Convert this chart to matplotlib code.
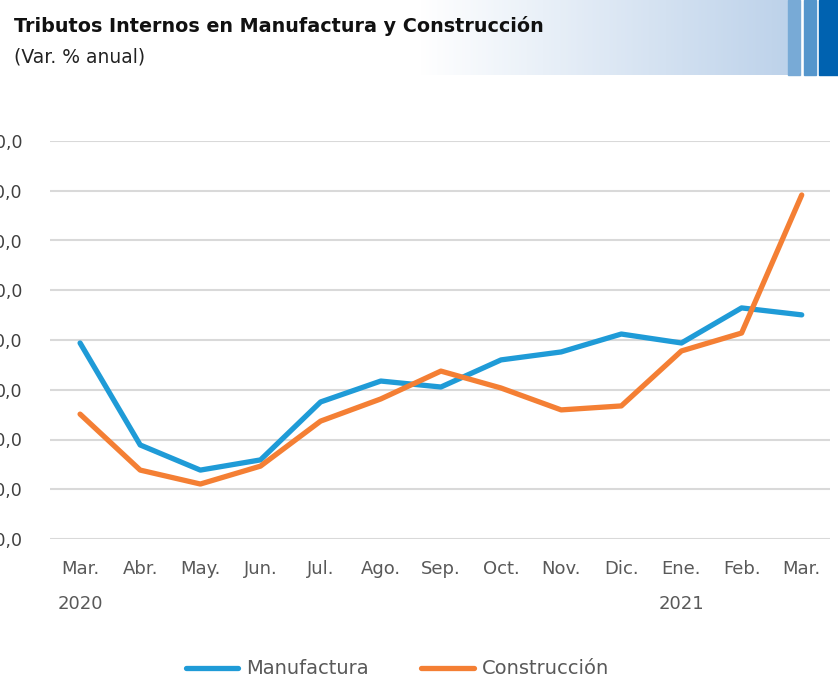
import matplotlib.pyplot as plt
import numpy as np
from matplotlib.patches import Rectangle
from matplotlib.colors import LinearSegmentedColormap

plt.rcParams['font.family'] = ['DejaVu Sans']

meses = ['Mar.\n2020', 'Abr.', 'May.', 'Jun.', 'Jul.', 'Ago.', 'Sep.',
         'Oct.', 'Nov.', 'Dic.', 'Ene.\n2021', 'Feb.', 'Mar.']
manufactura = [18.8, -22.2, -32.3, -28.2, -4.9, 3.5, 1.1, 12.0, 15.2, 22.4, 18.8, 32.9, 30.1]
construccion = [-9.8, -32.3, -37.9, -30.7, -12.6, -3.7, 7.5, 0.7, -8.1, -6.5, 15.6, 22.8, 78.3]
yticks = [-60, -40, -20, 0, 20, 40, 60, 80, 100]

W, H = 838, 685
fig = plt.figure(figsize=(W / 100, H / 100), dpi=100)

# franja decorativa del encabezado
hdr = fig.add_axes([420 / W, 1 - 75 / H, (788 - 420) / W, 75 / H])
grad = np.linspace(0, 1, 256).reshape(1, -1)
cm = LinearSegmentedColormap.from_list('g', ['#ffffff', '#bdd2ea'])
hdr.imshow(grad, aspect='auto', cmap=cm, extent=[0, 1, 0, 1])
hdr.axis('off')
for x0, x1, c in [(788, 800, '#78aad6'), (804, 816, '#5596cc'), (819, 838, '#0062b0')]:
    fig.patches.append(Rectangle((x0 / W, 1 - 75 / H), (x1 - x0) / W, 75 / H,
                                 transform=fig.transFigure, color=c, zorder=1))

fig.text(14 / W, 1 - 26 / H, 'Tributos Internos en Manufactura y Construcción',
         fontsize=13.8, fontweight='bold', color='#111111', va='center', ha='left')
fig.text(14 / W, 1 - 57 / H, '(Var. % anual)', fontsize=13.5, color='#222222',
         va='center', ha='left')

ax = fig.add_axes([50 / W, 1 - 539 / H, 780 / W, 398 / H])
x = np.arange(len(meses))
ax.plot(x, manufactura, color='#1f9bd7', lw=3.8, label='Manufactura',
        solid_capstyle='round', solid_joinstyle='round')
ax.plot(x, construccion, color='#f47f34', lw=3.8, label='Construcción',
        solid_capstyle='round', solid_joinstyle='round')

ax.set_xlim(-0.5, 12.47)
ax.set_ylim(-60, 100)
ax.set_yticks(yticks)
ax.set_yticklabels([f'{v:.1f}'.replace('.', ',') for v in yticks])
ax.set_xticks(x)
ax.set_xticklabels(meses, linespacing=2.25, va='top')
ax.grid(axis='y', color='#d9d9d9', lw=1.5)
ax.set_axisbelow(True)
for s in ax.spines.values():
    s.set_visible(False)
ax.tick_params(axis='y', length=0, pad=20, labelsize=12.5, labelcolor='#404040')
ax.tick_params(axis='x', length=0, pad=15, labelsize=13, labelcolor='#595959')

fig.legend(loc='center', bbox_to_anchor=(0.474, 1 - 669 / H), ncol=2, frameon=False,
           fontsize=14, labelcolor='#595959', handlelength=2.7, columnspacing=2.7,
           handletextpad=0.4)

fig.savefig('out.png', dpi=100)
